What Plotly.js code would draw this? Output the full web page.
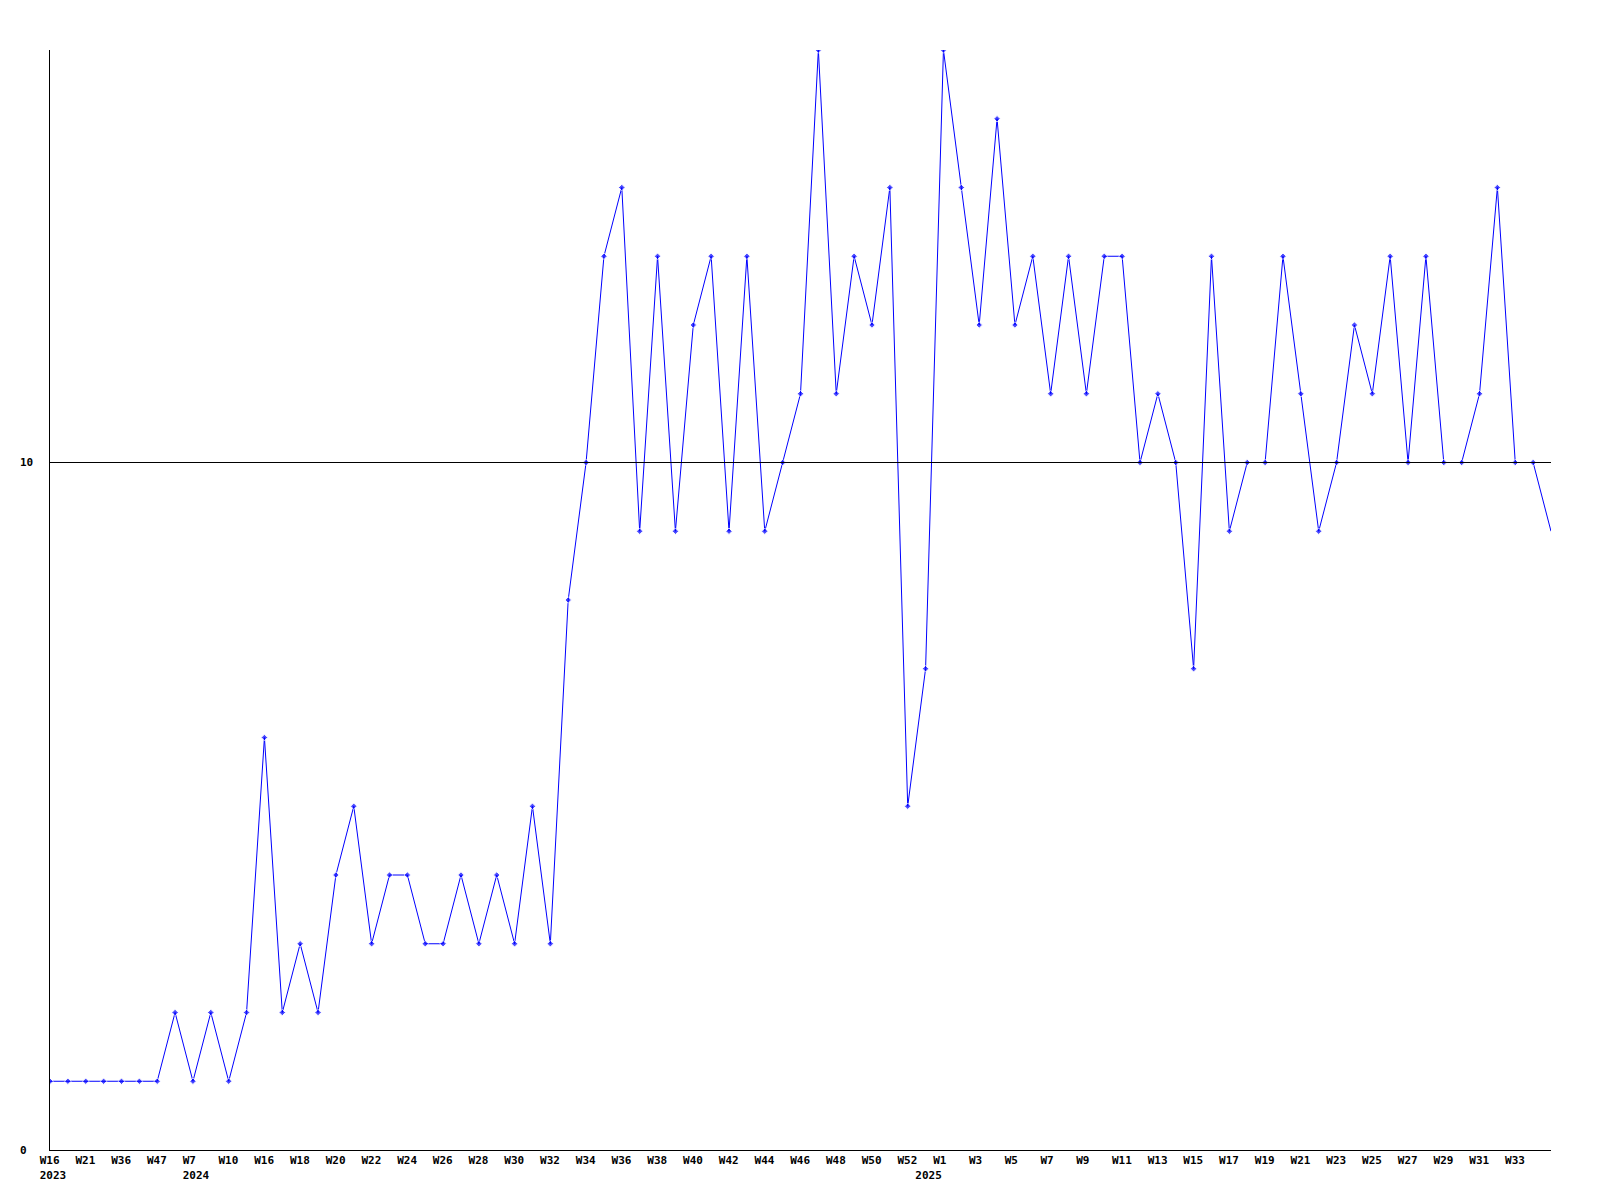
<!DOCTYPE html>
<html>
<head>
<meta charset="utf-8">
<script src="https://cdn.plot.ly/plotly-3.0.1.min.js"></script>
<style>html,body{margin:0;padding:0;background:#fff;}#chart{width:1600px;height:1200px;}</style>
</head>
<body>
<div id="chart"></div>
<script>
// Week labels, one per point (only every second label is shown on the axis)
const weeks = [
  "W16","W18","W21","W30","W36","W40","W47","W2","W7","W8",
  "W10","W13","W16","W17","W18","W19","W20","W21","W22","W23",
  "W24","W25","W26","W27","W28","W29","W30","W31","W32","W33",
  "W34","W35","W36","W37","W38","W39","W40","W41","W42","W43",
  "W44","W45","W46","W47","W48","W49","W50","W51","W52","W53",
  "W1","W2","W3","W4","W5","W6","W7","W8","W9","W10",
  "W11","W12","W13","W14","W15","W16","W17","W18","W19","W20",
  "W21","W22","W23","W24","W25","W26","W27","W28","W29","W30",
  "W31","W32","W33","W34","W35"
];
// Year labels, keyed by point index
const yearMarks = {0: "2023", 8: "2024", 49: "2025"};

const values = [
  1,1,1,1,1,1,1,2,1,2,
  1,2,6,2,3,2,4,5,3,4,
  4,3,3,4,3,4,3,5,3,8,
  10,13,14,9,13,9,12,13,9,13,
  9,10,11,16,11,13,12,14,5,7,
  16,14,12,15,12,13,11,13,11,13,
  13,10,11,10,7,13,9,10,10,13,
  11,9,10,12,11,13,10,13,10,10,
  11,14,10,10,9
];

const yTicks = [0, 10];

const n = values.length;
const xIdx = weeks.map((_, i) => i);
const pad = s => s + "\u00a0".repeat(Math.max(0, 4 - s.length));
const shownWeek = i => i % 2 === 0 && i < n - 1;
const tickvals = xIdx.filter(i => shownWeek(i) || yearMarks[i]);
const ticktext = tickvals.map(i => {
  const top = shownWeek(i) ? pad(weeks[i]) : pad("");
  return yearMarks[i] ? top + "<br>" + pad(yearMarks[i]) : top;
});

const FONT = "DejaVu Sans Mono, monospace";

const trace = {
  x: xIdx,
  y: values,
  type: "scatter",
  mode: "lines+markers",
  line: {color: "#0000ff", width: 1},
  marker: {color: "#0000ff", symbol: "diamond", size: xIdx.map(i => i === n - 1 ? 0 : 5)},
  hoverinfo: "x+y"
};

const layout = {
  width: 1600,
  height: 1200,
  margin: {l: 50, r: 49, t: 50, b: 50},
  paper_bgcolor: "#ffffff",
  plot_bgcolor: "#ffffff",
  showlegend: false,
  font: {family: FONT, size: 11, color: "#000", weight: "bold"},
  xaxis: {
    range: [0, n - 1],
    tickmode: "array",
    tickvals: tickvals,
    ticktext: ticktext,
    showgrid: false,
    zeroline: false,
    showline: true,
    linecolor: "#000",
    linewidth: 1,
    ticks: "",
    tickangle: 0,
    ticklabelshift: 3,
    tickfont: {family: FONT, size: 11, color: "#000", weight: "bold"}
  },
  yaxis: {
    range: [0, 16],
    tickmode: "array",
    tickvals: yTicks,
    showticklabels: false,
    showgrid: false,
    zeroline: false,
    showline: true,
    linecolor: "#000",
    linewidth: 1,
    ticks: ""
  },
  shapes: yTicks.filter(v => v > 0).map(v => ({
    type: "line", xref: "paper", x0: 0, x1: 1, yref: "y", y0: v, y1: v,
    line: {color: "#000", width: 1}, layer: "above"
  })),
  annotations: yTicks.map(v => ({
    xref: "paper", x: -0.0213, xanchor: "left",
    yref: "y", y: v, yanchor: "middle",
    text: String(v), showarrow: false,
    font: {family: FONT, size: 11, color: "#000", weight: "bold"}
  }))
};

Plotly.newPlot("chart", [trace], layout, {displayModeBar: false, staticPlot: true});
</script>
</body>
</html>
